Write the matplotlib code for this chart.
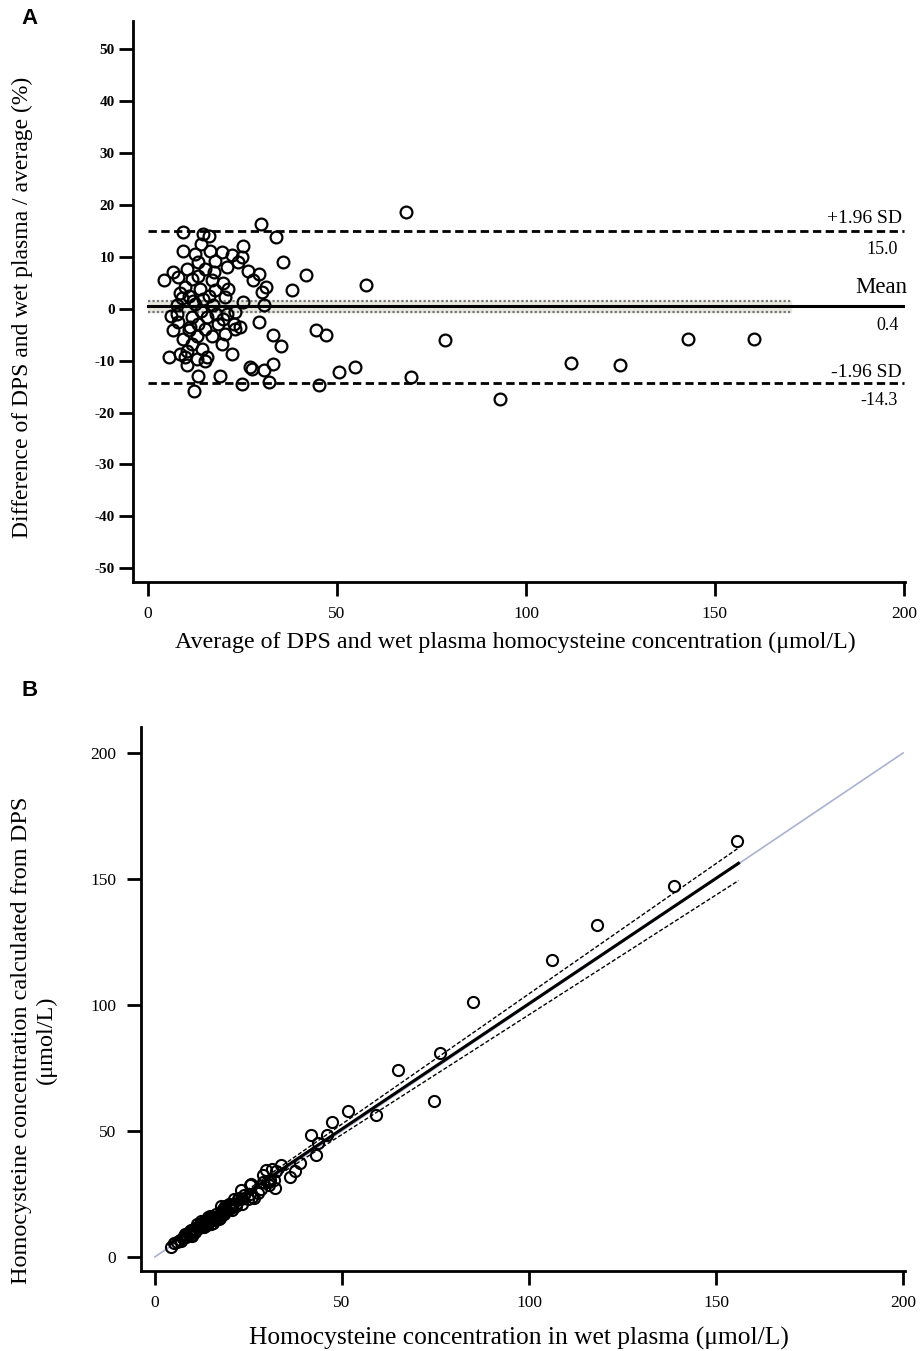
import matplotlib
matplotlib.use("Agg")
import matplotlib.pyplot as plt
import numpy as np

# ---------------- Panel A data (Bland-Altman) ----------------
a_avg = [9.1, 14.6, 16.0, 25.0, 14.0, 9.3, 12.4, 16.4, 19.5, 22.1, 24.8, 23.9, 13.3, 17.7,
         10.2, 6.7, 15.1, 20.8, 26.5, 4.1, 8.0, 11.6, 13.3, 16.8, 19.9, 9.8, 13.8, 17.7,
         21.2, 10.7, 14.6, 20.4, 25.2, 7.6, 12.4, 17.3, 23.0, 7.6, 11.6, 15.5, 19.9, 8.0,
         13.3, 18.6, 22.6, 6.7, 10.7, 15.1, 23.0, 9.3, 12.9, 16.8, 20.4, 11.6, 19.5, 10.2,
         14.2, 22.1, 8.5, 15.5, 5.4, 9.8, 12.9, 10.2, 15.1, 13.3, 19.0, 24.8, 12.2, 27.0,
         29.8, 33.9, 29.4, 27.7, 31.2, 30.1, 35.8, 41.8, 38.0, 57.7, 30.7, 29.4, 24.3, 33.1,
         35.1, 44.4, 47.1, 27.4, 30.7, 33.1, 32.1, 45.1, 50.4, 54.8, 68.3, 78.6, 69.6, 93.1,
         111.9, 124.9, 142.9, 160.3, 12.0, 9.0, 14.0, 18.0, 16.0, 11.0, 21.0, 8.5, 6.0, 17.5]
a_diff = [14.8, 14.3, 14.0, 12.1, 12.4, 11.0, 10.5, 11.1, 10.8, 10.2, 9.9, 8.9, 8.9, 9.2,
          7.6, 7.0, 7.6, 7.9, 7.3, 5.4, 6.0, 5.7, 6.3, 5.4, 5.0, 4.1, 3.8, 3.5,
          3.8, 2.5, 1.9, 2.2, 1.2, 0.6, 0.9, 0.6, -0.7, -1.0, -1.7, -1.7, -2.0, -2.6,
          -2.9, -2.9, -2.9, -4.2, -4.2, -3.9, -3.9, -5.8, -5.2, -5.2, -4.9, -6.8, -6.8, -8.1,
          -7.7, -8.7, -8.7, -9.3, -9.3, -9.3, -9.7, -10.9, -10.0, -12.9, -12.9, -14.5, -15.9, -11.3,
          16.3, 13.7, 6.7, 5.4, 4.1, 3.1, 9.0, 6.5, 3.6, 4.5, 0.6, -2.6, -3.6, -5.0,
          -7.2, -4.2, -5.0, -11.6, -11.9, -10.6, -14.1, -14.8, -12.3, -11.3, 18.6, -6.0, -13.2, -17.4,
          -10.4, -10.9, -5.8, -5.8, 1.5, 2.0, -0.5, -1.0, 2.5, -3.5, -1.0, 3.0, -1.5, 7.0]

mean_diff = 0.4
upper_loa = 15.0
lower_loa = -14.3
mean_ci = (1.5, -0.7)

a_xticks = [0, 50, 100, 150, 200]
a_yticks = [50, 40, 30, 20, 10, 0, -10, -20, -30, -40, -50]

# ---------------- Panel B data (DPS vs wet plasma) ----------------
b_wet = [9.8, 15.6, 17.1, 26.5, 14.9, 9.8, 13.1, 17.3, 20.6, 23.2, 26.0, 25.0, 13.9, 18.5,
         10.6, 6.9, 15.7, 21.6, 27.5, 4.2, 8.2, 11.9, 13.7, 17.3, 20.4, 10.0, 14.1, 18.0,
         21.6, 10.8, 14.7, 20.6, 25.4, 7.6, 12.5, 17.4, 22.9, 7.6, 11.5, 15.4, 19.7, 7.9,
         13.1, 18.3, 22.3, 6.6, 10.5, 14.8, 22.6, 9.0, 12.6, 16.4, 19.9, 11.2, 18.8, 9.8,
         13.7, 21.1, 8.1, 14.8, 5.2, 9.3, 12.3, 9.6, 14.3, 12.4, 17.8, 23.0, 11.2, 25.5,
         32.2, 36.2, 30.4, 28.5, 31.8, 30.6, 37.4, 43.2, 38.7, 59.0, 30.8, 29.0, 23.9, 32.3,
         33.8, 43.5, 45.9, 25.8, 28.9, 31.4, 29.8, 41.8, 47.3, 51.7, 74.7, 76.2, 65.0, 85.0,
         106.1, 118.1, 138.8, 155.7, 12.1, 9.1, 14.0, 17.9, 16.2, 10.8, 20.9, 8.6, 6.0, 18.1]
b_dps = [8.4, 13.6, 14.9, 23.5, 13.1, 8.8, 11.8, 15.5, 18.5, 21.0, 23.6, 22.8, 12.7, 16.9,
         9.8, 6.5, 14.5, 20.0, 25.5, 4.0, 7.8, 11.3, 12.9, 16.4, 19.4, 9.6, 13.5, 17.4,
         20.8, 10.6, 14.5, 20.2, 25.1, 7.6, 12.3, 17.2, 23.1, 7.6, 11.7, 15.6, 20.1, 8.1,
         13.5, 18.9, 22.9, 6.8, 10.9, 15.4, 23.4, 9.6, 13.2, 17.2, 20.9, 12.0, 20.2, 10.6,
         14.8, 23.1, 8.9, 16.2, 5.7, 10.3, 13.5, 10.8, 15.9, 14.2, 20.2, 26.6, 13.2, 28.5,
         27.4, 31.6, 28.4, 27.0, 30.6, 29.6, 34.2, 40.4, 37.3, 56.4, 30.6, 29.8, 24.7, 33.9,
         36.4, 45.3, 48.3, 29.0, 32.5, 34.9, 34.4, 48.4, 53.5, 57.9, 62.0, 81.0, 74.2, 101.2,
         117.7, 131.7, 147.0, 165.0, 11.9, 8.9, 14.0, 18.1, 15.8, 11.2, 21.1, 8.4, 6.1, 16.9]

reg_slope, reg_intercept = 0.995, 1.0
band_upper_slope, band_lower_slope = 0.039, -0.044
fit_range = (4.0, 156.0)
b_xticks = [0, 50, 100, 150, 200]
b_yticks = [0, 50, 100, 150, 200]

# ---------------- Figure ----------------
W, H = 924, 1351
fig = plt.figure(figsize=(W / 100, H / 100), dpi=100)
serif = ['Liberation Serif', 'DejaVu Serif']
sans = ['Liberation Sans', 'DejaVu Sans']
plt.rcParams['font.family'] = serif


def fx(px):
    return px / W


def fy(py):
    return 1 - py / H


def style_axes(ax):
    for s in ['top', 'right']:
        ax.spines[s].set_visible(False)
    for s in ['left', 'bottom']:
        ax.spines[s].set_linewidth(2.0)
        ax.spines[s].set_color('black')
    ax.tick_params(direction='out', length=10, width=2.0, colors='black')


# Panel A
axA = fig.add_axes([fx(133), fy(582), fx(905) - fx(133), fy(21) - fy(582)])
style_axes(axA)
axA.set_xlim(-4, 200.3)
axA.set_ylim(-52.6, 55.3)
axA.set_xticks(a_xticks)
axA.set_yticks(a_yticks)
axA.set_xticklabels([str(t) for t in a_xticks], fontsize=12.5, family=serif)
axA.set_yticklabels([str(t) for t in a_yticks], fontsize=11, fontweight='bold', family=serif)
axA.tick_params(axis='x', pad=7)
axA.tick_params(axis='y', pad=3)

xl = [0, 200]
axA.plot(xl, [upper_loa, upper_loa], color='black', lw=2.0, ls=(0, (3, 1.6)))
axA.plot(xl, [lower_loa, lower_loa], color='black', lw=2.0, ls=(0, (3, 1.6)))
axA.plot(xl, [mean_diff, mean_diff], color='black', lw=2.2)
axA.fill_between([0, 170], [mean_ci[1]] * 2, [mean_ci[0]] * 2, color='#e8e8e0', zorder=0)
for v in mean_ci:
    axA.plot([0, 170], [v, v], color='#777777', lw=1.6, ls=(0, (1, 1)))
axA.plot(a_avg, a_diff, ls='none', marker='o', ms=8.5, mfc='none', mec='black', mew=1.6, zorder=5)

axA.text(199.5, 17.3, '+1.96 SD', ha='right', va='center', fontsize=14)
axA.text(198.5, 11.3, '15.0', ha='right', va='center', fontsize=13)
axA.text(200.8, 4.0, 'Mean', ha='right', va='center', fontsize=16.5)
axA.text(198.5, -3.3, '0.4', ha='right', va='center', fontsize=13)
axA.text(199.5, -12.3, '-1.96 SD', ha='right', va='center', fontsize=14)
axA.text(198.5, -17.7, '-14.3', ha='right', va='center', fontsize=13)

fig.text(fx(515), fy(642), 'Average of DPS and wet plasma homocysteine concentration (\u03bcmol/L)',
         ha='center', va='center', fontsize=17.3, family=serif)
fig.text(fx(22), fy(307), 'Difference of DPS and wet plasma / average (%)', rotation=90,
         ha='center', va='center', fontsize=17, family=serif)
fig.text(fx(30), fy(19), 'A', ha='center', va='center', fontsize=16, fontweight='bold', family=sans)

# Panel B
axB = fig.add_axes([fx(141), fy(1271), fx(905) - fx(141), fy(727) - fy(1271)])
style_axes(axB)
axB.set_xlim(-3.7, 200.5)
axB.set_ylim(-5.6, 210.3)
axB.set_xticks(b_xticks)
axB.set_yticks(b_yticks)
axB.set_xticklabels([str(t) for t in b_xticks], fontsize=12.5, family=serif)
axB.set_yticklabels([str(t) for t in b_yticks], fontsize=12.5, family=serif)
axB.tick_params(axis='x', pad=7)
axB.tick_params(axis='y', pad=8)

axB.plot([0, 200], [0, 200], color='#aab2d4', lw=1.2, zorder=1)
xs = np.array(fit_range)
reg = reg_slope * xs + reg_intercept
axB.plot(xs, reg, color='black', lw=2.2, zorder=3)
axB.plot(xs, reg + band_upper_slope * xs, color='black', lw=1.0, ls=(0, (3, 1.5)), zorder=3)
axB.plot(xs, reg + band_lower_slope * xs, color='black', lw=1.0, ls=(0, (3, 1.5)), zorder=3)
axB.plot(b_wet, b_dps, ls='none', marker='o', ms=8, mfc='none', mec='black', mew=1.5, zorder=5)

fig.text(fx(519), fy(1338), 'Homocysteine concentration in wet plasma (\u03bcmol/L)',
         ha='center', va='center', fontsize=18.4, family=serif)
fig.text(fx(34), fy(1040), 'Homocysteine concentration calculated from DPS\n(\u03bcmol/L)', rotation=90,
         ha='center', va='center', fontsize=17.5, family=serif, multialignment='center', linespacing=1.2)
fig.text(fx(30), fy(690), 'B', ha='center', va='center', fontsize=16, fontweight='bold', family=sans)

fig.savefig('out.png', dpi=100)
